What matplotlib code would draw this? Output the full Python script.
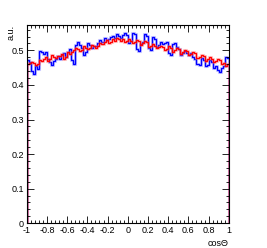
import matplotlib
matplotlib.use('Agg')
import matplotlib.pyplot as plt
import numpy as np
from matplotlib.ticker import MultipleLocator

plt.rcParams['font.family'] = ['Liberation Sans', 'DejaVu Sans']

edges = np.linspace(-1, 1, 101)

blue = [0.472, 0.466, 0.440, 0.432, 0.455, 0.446, 0.498, 0.494, 0.490, 0.496,
        0.474, 0.466, 0.458, 0.470, 0.476, 0.483, 0.475, 0.486, 0.492, 0.481,
        0.496, 0.504, 0.471, 0.462, 0.517, 0.525, 0.515, 0.508, 0.486, 0.494,
        0.522, 0.516, 0.508, 0.514, 0.512, 0.520, 0.530, 0.524, 0.536, 0.530,
        0.533, 0.540, 0.543, 0.537, 0.546, 0.541, 0.537, 0.544, 0.550, 0.545,
        0.520, 0.526, 0.551, 0.546, 0.503, 0.497, 0.518, 0.524, 0.547, 0.541,
        0.508, 0.502, 0.539, 0.534, 0.510, 0.515, 0.524, 0.519, 0.521, 0.525,
        0.493, 0.487, 0.518, 0.522, 0.509, 0.503, 0.486, 0.491, 0.497, 0.492,
        0.488, 0.493, 0.481, 0.475, 0.462, 0.457, 0.478, 0.472, 0.454, 0.459,
        0.473, 0.467, 0.450, 0.455, 0.442, 0.437, 0.449, 0.456, 0.482, 0.477]

red = [0.460, 0.464, 0.467, 0.463, 0.458, 0.462, 0.472, 0.468, 0.475, 0.481,
       0.470, 0.474, 0.488, 0.482, 0.478, 0.483, 0.484, 0.490, 0.476, 0.480,
       0.494, 0.490, 0.496, 0.500, 0.507, 0.503, 0.498, 0.502, 0.512, 0.508,
       0.503, 0.507, 0.517, 0.513, 0.508, 0.512, 0.522, 0.518, 0.525, 0.529,
       0.520, 0.524, 0.532, 0.528, 0.537, 0.533, 0.528, 0.532, 0.524, 0.528,
       0.532, 0.528, 0.520, 0.524, 0.530, 0.526, 0.516, 0.520, 0.527, 0.523,
       0.510, 0.514, 0.518, 0.514, 0.506, 0.510, 0.514, 0.510, 0.500, 0.504,
       0.512, 0.508, 0.496, 0.500, 0.507, 0.503, 0.490, 0.494, 0.502, 0.498,
       0.486, 0.490, 0.496, 0.492, 0.478, 0.482, 0.488, 0.484, 0.470, 0.474,
       0.480, 0.476, 0.466, 0.470, 0.476, 0.472, 0.460, 0.464, 0.456, 0.460]

fig = plt.figure(figsize=(2.67, 2.48), dpi=100)
ax = fig.add_axes([0.1, 0.1, 0.757, 0.8])

# soft halo under each line, like the reference
ax.stairs(blue, edges, color='#7777ff', linewidth=2.2, alpha=0.35)
ax.stairs(blue, edges, color='#0000ff', linewidth=1.0)
ax.stairs(red, edges, color='#ff7777', linewidth=2.2, alpha=0.35)
ax.stairs(red, edges, color='#ff0000', linewidth=1.0)

ax.set_xlim(-1, 1)
ax.set_ylim(0, 0.574)
ax.xaxis.set_minor_locator(MultipleLocator(0.04))
ax.yaxis.set_minor_locator(MultipleLocator(0.02))
ax.tick_params(which='both', direction='in', top=True, right=True,
               labelsize=6.5, width=0.6, pad=2)
ax.tick_params(which='major', length=5)
ax.tick_params(which='minor', length=2.5)
ax.set_xticks(np.round(np.arange(-1, 1.01, 0.2), 1))
ax.set_xticklabels(['-1', '-0.8', '-0.6', '-0.4', '-0.2', '0', '0.2', '0.4', '0.6', '0.8', '1'])
ax.set_yticks(np.round(np.arange(0, 0.51, 0.1), 1))
ax.set_yticklabels(['0', '0.1', '0.2', '0.3', '0.4', '0.5'])
for s in ax.spines.values():
    s.set_linewidth(0.8)

ax.set_xlabel('cosΘ', fontsize=6.5, loc='right', labelpad=3)
fig.text(0.04, 0.9, 'a.u.', fontsize=6.5, rotation=90, ha='center', va='top')

fig.savefig('out.png', dpi=100)
